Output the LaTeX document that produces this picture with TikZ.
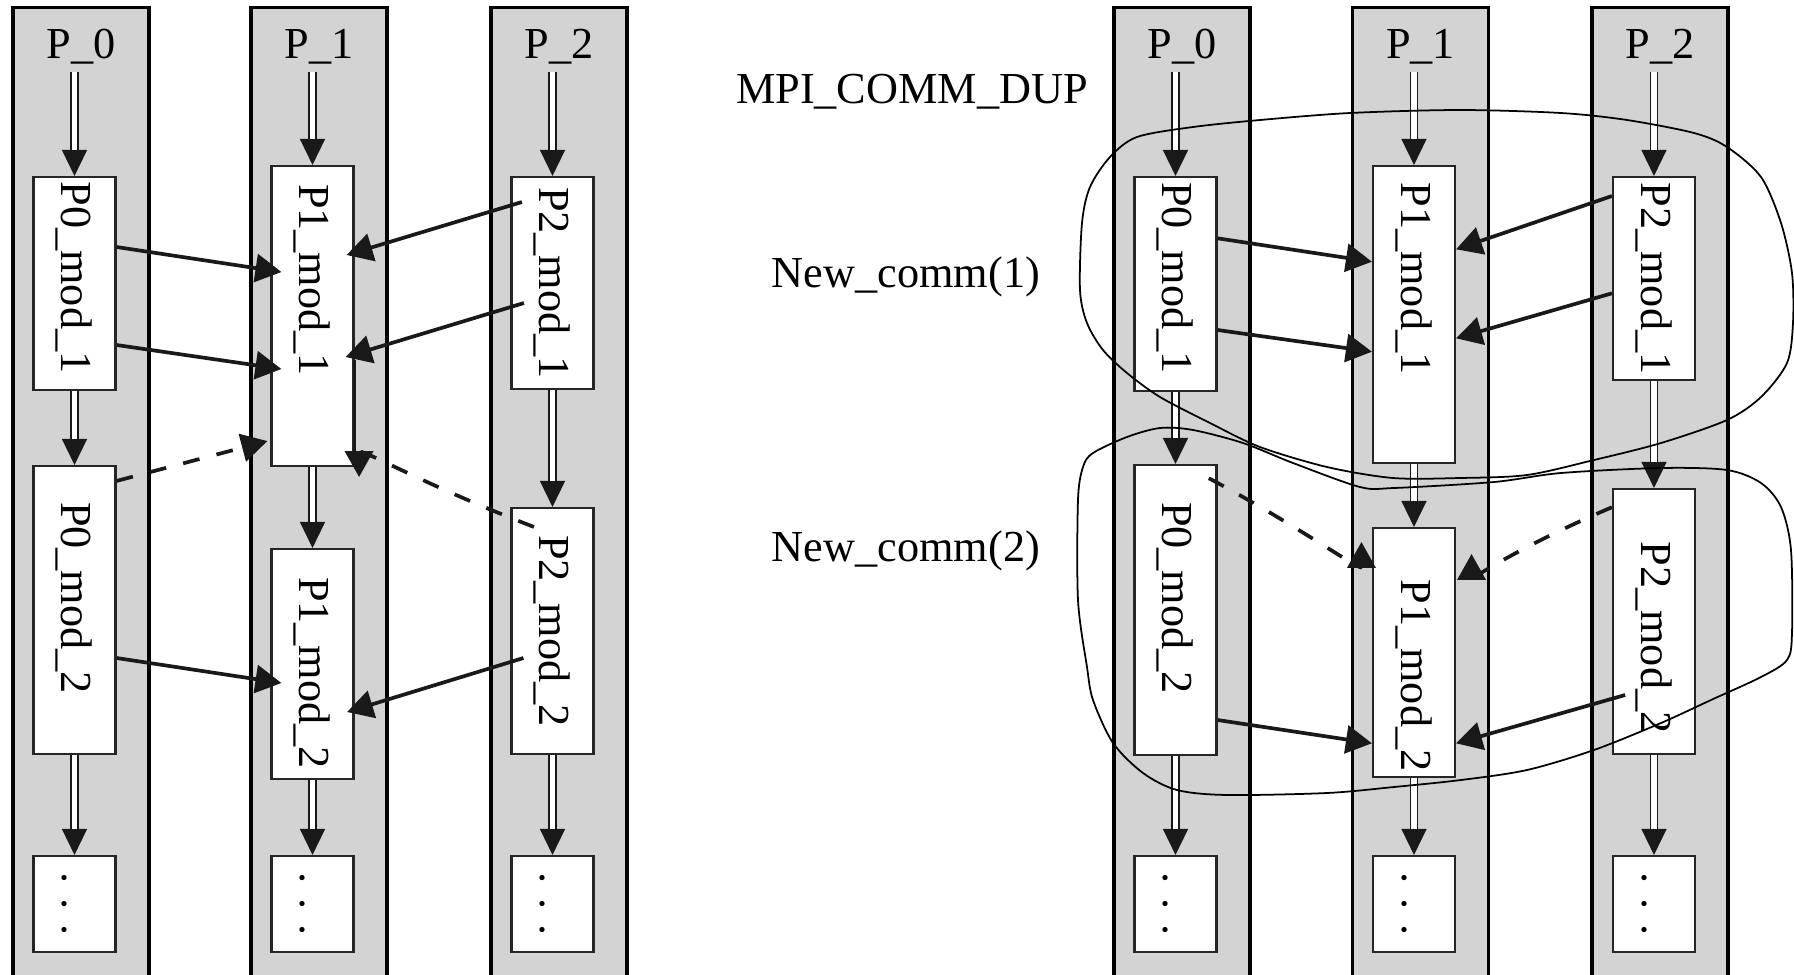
\documentclass[tikz,border=0pt]{standalone}
\usepackage{fontspec}
\setmainfont{Liberation Serif}
\usepackage{graphicx}
\usetikzlibrary{arrows.meta}
\definecolor{colgray}{HTML}{D3D3D3}
\newcommand{\vt}[1]{\rotatebox{-90}{#1}}

\begin{document}
\begin{tikzpicture}[
    every node/.style={font=\fontsize{12.6}{15}\selectfont},
    col/.style={draw=black, line width=1.1pt, fill=colgray, minimum width=1.36cm, minimum height=10.13cm},
    mod/.style={draw=black!85, line width=0.6pt, fill=white, minimum width=0.82cm, inner sep=0pt, minimum height=#1},
    tag/.style={inner sep=2pt},
    conn/.style={-{Triangle[length=2.6mm, width=2.8mm]}, line width=1.05pt, black!90},
    dconn/.style={conn, dash pattern=on 4.8pt off 5pt},
    dbl/.style={-{Triangle[length=2.6mm, width=2.5mm]}, line width=0.4pt, draw=black!90,
        postaction={draw, -, double=white, double distance=1.6pt, line width=0.42pt, shorten >=2.6mm}},
    comm/.style={line width=0.5pt}
]
    \useasboundingbox (0,0) rectangle (17.94,-9.75);

    % Processi senza duplicazione
    \node[col] (c0) at (0.81,-5.14) {};
    \node[col] (c1) at (3.19,-5.14) {};
    \node[col] (c2) at (5.59,-5.14) {};
    \node[tag] (p0t) at (0.81,-0.47) {P\_0};
    \node[tag] (p1t) at (3.19,-0.47) {P\_1};
    \node[tag] (p2t) at (5.59,-0.47) {P\_2};

    \node[mod=2.13cm] (p0m1) at (0.745,-2.835) {\vt{P0\_mod\_1\hspace*{0.12cm}}};
    \node[mod=3.00cm] (p1m1) at (3.125,-3.16) {\vt{P1\_mod\_1\hspace*{0.72cm}}};
    \node[mod=2.12cm] (p2m1) at (5.525,-2.83) {\vt{P2\_mod\_1}};
    \node[mod=2.88cm] (p0m2) at (0.745,-6.10) {\vt{P0\_mod\_2\hspace*{0.24cm}}};
    \node[mod=2.30cm] (p1m2) at (3.125,-6.64) {\vt{\hspace*{0.18cm}P1\_mod\_2}};
    \node[mod=2.46cm] (p2m2) at (5.525,-6.31) {\vt{P2\_mod\_2}};
    \node[mod=0.96cm] (p0d) at (0.745,-9.04) {\vt{\vphantom{P\_}. . .}};
    \node[mod=0.96cm] (p1d) at (3.125,-9.04) {\vt{\vphantom{P\_}. . .}};
    \node[mod=0.96cm] (p2d) at (5.525,-9.04) {\vt{\vphantom{P\_}. . .}};

    % Processi con MPI_COMM_DUP
    \node[col] (d0) at (11.82,-5.14) {};
    \node[col] (d1) at (14.205,-5.14) {};
    \node[col] (d2) at (16.60,-5.14) {};
    \node[tag] (q0t) at (11.82,-0.47) {P\_0};
    \node[tag] (q1t) at (14.205,-0.47) {P\_1};
    \node[tag] (q2t) at (16.60,-0.47) {P\_2};

    \node[mod=2.14cm] (q0m1) at (11.755,-2.84) {\vt{P0\_mod\_1\hspace*{0.12cm}}};
    \node[mod=2.97cm] (q1m1) at (14.14,-3.145) {\vt{P1\_mod\_1\hspace*{0.72cm}}};
    \node[mod=2.03cm] (q2m1) at (16.54,-2.785) {\vt{P2\_mod\_1}};
    \node[mod=2.90cm] (q0m2) at (11.755,-6.10) {\vt{P0\_mod\_2\hspace*{0.24cm}}};
    \node[mod=2.49cm] (q1m2) at (14.14,-6.525) {\vt{\hspace*{0.46cm}P1\_mod\_2}};
    \node[mod=2.65cm] (q2m2) at (16.54,-6.215) {\vt{\hspace*{0.32cm}P2\_mod\_2}};
    \node[mod=0.96cm] (q0d) at (11.755,-9.04) {\vt{\vphantom{P\_}. . .}};
    \node[mod=0.96cm] (q1d) at (14.14,-9.04) {\vt{\vphantom{P\_}. . .}};
    \node[mod=0.96cm] (q2d) at (16.54,-9.04) {\vt{\vphantom{P\_}. . .}};

    % Etichette centrali
    \node (mpi) at (9.12,-0.92) {MPI\_COMM\_DUP};
    \node (nc1) at (9.06,-2.77) {New\_comm(1)};
    \node (nc2) at (9.06,-5.51) {New\_comm(2)};

    % Frecce doppie lungo i processi
    \draw[dbl] (p0t.south -| p0m1.north) -- (p0m1.north);
    \draw[dbl] (p1t.south -| p1m1.north) -- (p1m1.north);
    \draw[dbl] (p2t.south -| p2m1.north) -- (p2m1.north);
    \draw[dbl] (p0m1.south) -- (p0m2.north);
    \draw[dbl] (p1m1.south) -- (p1m2.north);
    \draw[dbl] (p2m1.south) -- (p2m2.north);
    \draw[dbl] (p0m2.south) -- (p0d.north);
    \draw[dbl] (p1m2.south) -- (p1d.north);
    \draw[dbl] (p2m2.south) -- (p2d.north);
    \draw[dbl] (q0t.south -| q0m1.north) -- (q0m1.north);
    \draw[dbl] (q1t.south -| q1m1.north) -- (q1m1.north);
    \draw[dbl] (q2t.south -| q2m1.north) -- (q2m1.north);
    \draw[dbl] (q0m1.south) -- (q0m2.north);
    \draw[dbl] (q1m1.south) -- (q1m2.north);
    \draw[dbl] (q2m1.south) -- (q2m2.north);
    \draw[dbl] (q0m2.south) -- (q0d.north);
    \draw[dbl] (q1m2.south) -- (q1d.north);
    \draw[dbl] (q2m2.south) -- (q2d.north);

    % Messaggi senza duplicazione
    \draw[conn] ([yshift=0.365cm]p0m1.east) -- ([xshift=0.11cm,yshift=0.44cm]p1m1.west);
    \draw[conn] ([yshift=-0.615cm]p0m1.east) -- ([xshift=0.11cm,yshift=-0.53cm]p1m1.west);
    \draw[conn] ([xshift=0.115cm,yshift=0.81cm]p2m1.west) -- ([xshift=-0.08cm,yshift=0.61cm]p1m1.east);
    \draw[conn] ([xshift=0.135cm,yshift=-0.20cm]p2m1.west) -- ([xshift=-0.09cm,yshift=-0.41cm]p1m1.east);
    \draw[dconn] ([yshift=-0.16cm]p0m2.north east) -- ([xshift=-0.03cm,yshift=0.26cm]p1m1.south west);
    \draw[dconn] ([xshift=0.235cm,yshift=-0.20cm]p2m2.north west) .. controls +(159:1.2) and +(90:0.3) .. ([xshift=0.045cm,yshift=-0.10cm]p1m1.south east);
    \draw[line width=1.05pt, black!90] ([yshift=-0.44cm]p1m1.east) -- ([yshift=0.11cm]p1m1.south east);
    \draw[conn] ([yshift=-0.48cm]p0m2.east) -- ([xshift=0.11cm,yshift=-0.19cm]p1m2.west);
    \draw[conn] ([xshift=0.13cm,yshift=-0.27cm]p2m2.west) -- ([xshift=-0.075cm,yshift=-0.48cm]p1m2.east);

    % Messaggi con i nuovi comunicatori
    \draw[conn] ([yshift=0.457cm]q0m1.east) -- ([yshift=0.528cm]q1m1.west);
    \draw[conn] ([yshift=-0.46cm]q0m1.east) -- ([yshift=-0.372cm]q1m1.west);
    \draw[conn] ([yshift=0.825cm]q2m1.west) -- ([yshift=0.652cm]q1m1.east);
    \draw[conn] ([yshift=-0.148cm]q2m1.west) -- ([yshift=-0.238cm]q1m1.east);
    \draw[dconn] ([xshift=-0.087cm,yshift=-0.143cm]q0m2.north east) .. controls +(-28:1.0) and +(-90:0.3) .. ([xshift=-0.105cm,yshift=-0.15cm]q1m2.north west);
    \draw[dconn] ([yshift=-0.193cm]q2m2.north west) .. controls +(203:1.0) and +(-90:0.25) .. ([xshift=0.155cm,yshift=-0.27cm]q1m2.north east);
    \draw[conn] ([yshift=-1.10cm]q0m2.east) -- ([yshift=-0.908cm]q1m2.west);
    \draw[conn] ([xshift=0.132cm,yshift=-0.735cm]q2m2.west) -- ([yshift=-0.908cm]q1m2.east);

    % Comunicatori
    \draw[comm] plot[smooth cycle, tension=0.5] coordinates {
        (11.37,-1.37) (11.93,-1.27) (12.60,-1.20) (13.50,-1.13) (14.60,-1.10) (15.61,-1.13)
        (16.27,-1.20) (16.94,-1.33) (17.27,-1.47) (17.61,-1.77) (17.81,-2.23) (17.92,-2.73)
        (17.93,-3.23) (17.87,-3.63) (17.61,-3.97) (17.27,-4.20) (16.61,-4.43) (15.94,-4.60)
        (15.27,-4.75) (14.60,-4.78) (13.93,-4.78) (13.27,-4.67) (12.60,-4.47) (12.10,-4.23)
        (11.60,-3.97) (11.27,-3.73) (11.03,-3.50) (10.87,-3.23) (10.80,-2.90) (10.82,-2.23)
        (10.90,-1.87) (11.10,-1.57)};
    \draw[comm] plot[smooth cycle, tension=0.5] coordinates {
        (10.83,-4.67) (10.93,-4.53) (11.27,-4.37) (11.60,-4.28) (11.93,-4.30) (12.43,-4.43)
        (12.93,-4.63) (13.60,-4.87) (13.94,-4.88) (14.94,-4.82) (15.61,-4.73) (16.61,-4.68)
        (17.27,-4.70) (17.61,-4.83) (17.81,-5.07) (17.91,-5.50) (17.92,-6.33) (17.87,-6.60)
        (17.61,-6.77) (17.11,-7.00) (16.61,-7.23) (15.94,-7.50) (15.27,-7.70) (14.61,-7.80)
        (13.94,-7.87) (13.27,-7.93) (12.27,-7.95) (11.77,-7.90) (11.43,-7.73) (11.13,-7.43)
        (10.93,-7.00) (10.87,-6.67) (10.78,-6.00) (10.78,-5.00)};

\end{tikzpicture}
\end{document}
